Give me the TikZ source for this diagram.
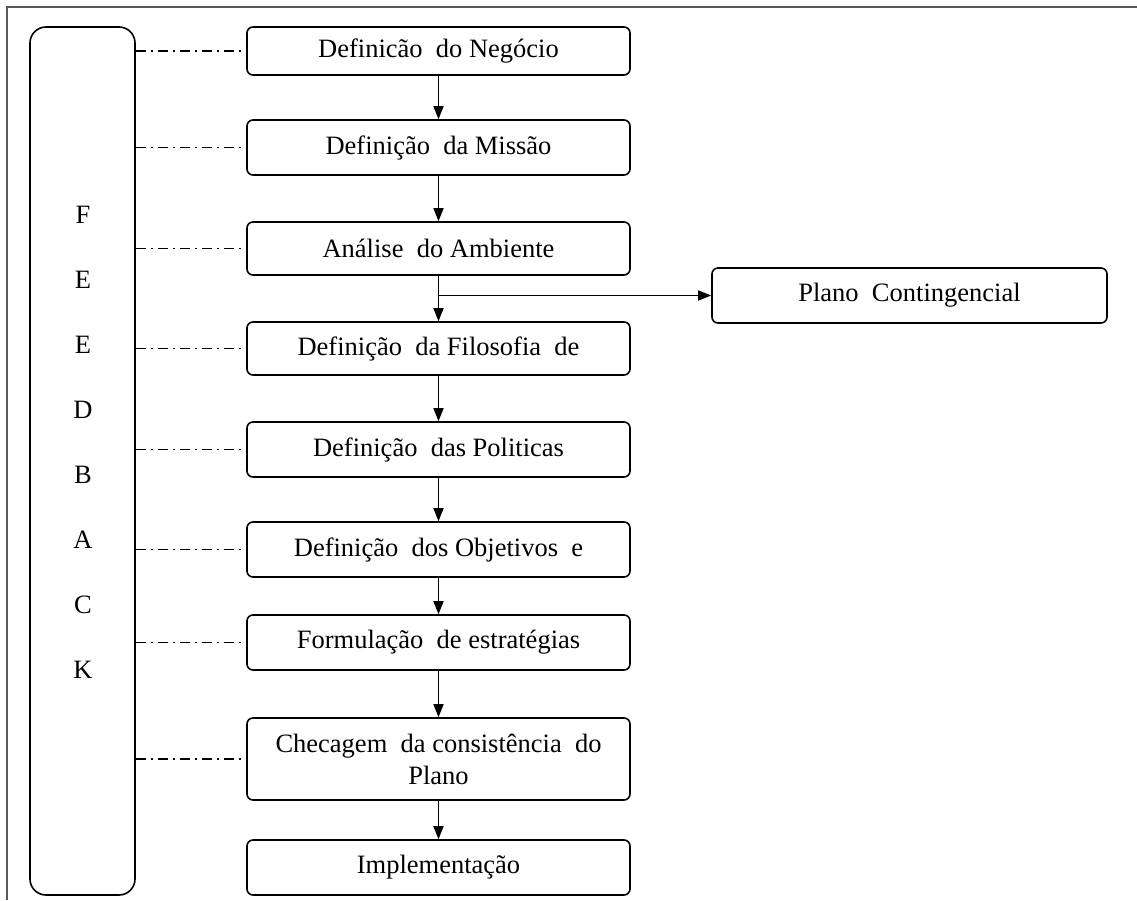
\documentclass[tikz,border=0pt]{standalone}
\usepackage{fontspec}
\setmainfont{Liberation Serif}
\usetikzlibrary{arrows.meta,positioning,calc}

\tikzset{
  etapa/.style={draw, line width=1.6pt, rounded corners=6pt, minimum width=383pt,
    minimum height=53pt, align=center, inner sep=0pt,
    font=\fontsize{26.5}{32}\selectfont},
  seta/.style={-{Triangle[length=13pt,width=10pt]}, line width=1.6pt},
  traco/.style={line width=1.5pt, dash pattern=on 10pt off 5pt on 2pt off 5pt},
}

\begin{document}
\begin{tikzpicture}[x=1pt,y=-1pt]
    \useasboundingbox (0,0) rectangle (1137,900);
    % moldura
    \draw[gray!70!black, line width=2pt] (1137,7) -- (7,7) -- (7,900);

    % caixa do feedback
    \node[draw, line width=1.6pt, rounded corners=16pt, minimum width=105pt,
      minimum height=868pt] (fb) at (82.5,461) {};
    \foreach \letra [count=\i from 0] in {F,E,E,D,B,A,C,K}
        \node[font=\fontsize{26.5}{32}\selectfont] (fb\i) at (83,215+65*\i) {\letra};

    % etapas do plano
    \node[etapa, minimum height=48pt] (n1) at (438.5,51) {Definicão\ \ do Negócio};
    \node[etapa, minimum height=55pt] (n2) at (438.5,147.5) {Definição\ \ da Missão};
    \node[etapa] (n3) at (438.5,248.5) {Análise\ \ do Ambiente};
    \node[etapa] (n4) at (438.5,348.5) {Definição\ \ da Filosofia\ \ de};
    \node[etapa, minimum height=55pt] (n5) at (438.5,449.5) {Definição\ \ das Politicas};
    \node[etapa, minimum height=55pt] (n6) at (438.5,549.5) {Definição\ \ dos Objetivos\ \ e};
    \node[etapa, minimum height=55pt] (n7) at (438.5,642.5) {Formulação\ \ de estratégias};
    \node[etapa, minimum height=82pt] (n8) at (438.5,759) {Checagem\ \ da consistência\ \ do\\Plano};
    \node[etapa, minimum height=55pt] (n9) at (438.5,867.5) {Implementação};
    \node[etapa, minimum width=395pt, minimum height=55pt] (plano) at (909.5,295.5) {Plano\ \ Contingencial};

    % setas
    \foreach \a/\b in {n1/n2,n2/n3,n3/n4,n4/n5,n5/n6,n6/n7,n7/n8,n8/n9}
        \draw[seta] (\a) -- (\b);
    \draw[seta] (n3.south |- plano.west) -- (plano.west);

    % ligacoes do feedback
    \foreach \n in {n1,n2,n3,n4,n5,n6,n7,n8}
        \draw[traco] (fb.east |- \n) -- (\n.west);
\end{tikzpicture}
\end{document}
